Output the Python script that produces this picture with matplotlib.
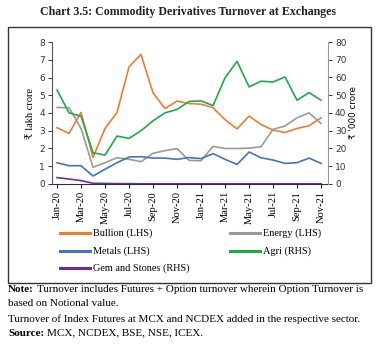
import matplotlib.pyplot as plt
from matplotlib.lines import Line2D

months = ["Jan-20", "Feb-20", "Mar-20", "Apr-20", "May-20", "Jun-20", "Jul-20", "Aug-20",
          "Sep-20", "Oct-20", "Nov-20", "Dec-20", "Jan-21", "Feb-21", "Mar-21", "Apr-21",
          "May-21", "Jun-21", "Jul-21", "Aug-21", "Sep-21", "Oct-21", "Nov-21"]

# left axis, lakh crore
bullion = [3.17, 2.85, 4.03, 1.5, 3.13, 4.03, 6.6, 7.3, 5.13, 4.25, 4.67, 4.53,
           4.5, 4.3, 3.63, 3.1, 3.83, 3.35, 3.04, 2.9, 3.13, 3.28, 3.73]
energy = [4.31, 4.3, 3.13, 0.94, 1.2, 1.48, 1.39, 1.26, 1.73, 1.88, 1.99, 1.33,
          1.31, 2.12, 2.0, 2.0, 2.02, 2.1, 3.08, 3.27, 3.73, 4.01, 3.41]
metals = [1.2, 1.03, 1.03, 0.45, 0.83, 1.2, 1.52, 1.54, 1.46, 1.46, 1.39, 1.49,
          1.43, 1.71, 1.39, 1.1, 1.8, 1.48, 1.35, 1.16, 1.2, 1.46, 1.16]
# right axis, '000 crore
agri = [52.9, 40.1, 38.2, 17.6, 16.3, 27.0, 25.7, 30.0, 35.6, 40.1, 42.0, 46.5,
        46.8, 44.2, 59.8, 69.1, 54.7, 57.9, 57.5, 60.3, 47.2, 51.5, 47.2]
gems = [3.6, 2.8, 1.9, 0.4, 0.3, 0.2, 0.2, 0.1, 0.1, 0.1, 0.1, 0.1,
        0.1, 0.1, 0.1, 0.1, 0.1, 0.1, 0.1, 0.1, 0.1, 0.1, 0.1]

c_bull = "#f07c31"
c_energy = "#9a9a9a"
c_metals = "#4472c4"
c_agri = "#1faa48"
c_gems = "#6a2ca0"

serif = ["Liberation Serif", "DejaVu Serif", "DejaVu Sans"]
plt.rcParams["font.family"] = ["DejaVu Sans"]

fig = plt.figure(figsize=(3.76, 3.49), dpi=100)
W, H = 376, 349

fig.text(0.5, 1 - 12 / H, "Chart 3.5: Commodity Derivatives Turnover at Exchanges",
         ha="center", va="center", fontsize=8.6, fontweight="bold", family=serif, color="#222222")

# frame box
box = plt.Rectangle((8 / W, 1 - 283 / H), 363 / W, 256 / H, transform=fig.transFigure,
                    fill=False, edgecolor="#333333", linewidth=1.0)
fig.patches.append(box)

ax = fig.add_axes([52 / W, 1 - 184 / H, 276 / W, 142 / H])
ax2 = ax.twinx()

x = list(range(len(months)))
ax.plot(x, bullion, color=c_bull, lw=1.2)
ax.plot(x, energy, color=c_energy, lw=1.2)
ax.plot(x, metals, color=c_metals, lw=1.2)
ax2.plot(x, agri, color=c_agri, lw=1.2)
ax2.plot(x, gems, color=c_gems, lw=1.2)

ax.set_xlim(-0.42, 22.58)
ax.set_ylim(0, 8)
ax2.set_ylim(0, 80)
ax.set_yticks(range(0, 9))
ax2.set_yticks(range(0, 81, 10))
ax.set_xticks(x[::2])
ax.set_xticklabels(months[::2], rotation=90, fontsize=7.6, family=serif)
ax.tick_params(axis="y", labelsize=6.5, length=3, width=0.7, colors="#333333", pad=2)
ax.tick_params(axis="x", length=3, width=0.7, pad=2)
ax2.tick_params(axis="y", labelsize=6.5, length=3, width=0.7, colors="#333333", pad=2)

for a in (ax, ax2):
    a.spines["top"].set_visible(False)
    a.patch.set_visible(False)
ax.spines["right"].set_visible(False)
ax2.spines["left"].set_visible(False)
ax2.spines["bottom"].set_visible(False)
ax2.spines["right"].set_color("#999999")
ax.spines["left"].set_color("#555555")
ax.spines["bottom"].set_color("#333333")

ax.set_ylabel("₹ lakh crore", fontsize=7.5, family=serif, labelpad=3)
ax2.set_ylabel("₹ '000 crore", fontsize=6.3, rotation=90, labelpad=2)

# legend drawn by hand, two columns
leg_items = [("Bullion (LHS)", c_bull, 60, 233), ("Energy (LHS)", c_energy, 230, 233),
             ("Metals (LHS)", c_metals, 60, 251), ("Agri (RHS)", c_agri, 230, 251),
             ("Gem and Stones (RHS)", c_gems, 60, 268)]
for name, col, lx, ly in leg_items:
    fig.add_artist(Line2D([lx / W, (lx + 30) / W], [1 - ly / H, 1 - ly / H],
                          color=col, lw=2.2, transform=fig.transFigure))
    fig.text((lx + 33) / W, 1 - ly / H, name, fontsize=7.4, family=serif, va="center")

fs = 8.0
fig.canvas.draw()
r = fig.canvas.get_renderer()

def bold_then(y, head, rest):
    t = fig.text(8 / W, 1 - y / H, head, fontsize=fs, family=serif, va="center",
                 fontweight="bold")
    w = t.get_window_extent(renderer=r).width
    fig.text((8 + w + 3) / W, 1 - y / H, rest, fontsize=fs, family=serif, va="center")

bold_then(290, "Note:", "Turnover includes Futures + Option turnover wherein Option Turnover is")
fig.text(8 / W, 1 - 304 / H, "based on Notional value.", fontsize=fs, family=serif, va="center")
fig.text(8 / W, 1 - 319 / H,
         "Turnover of Index Futures at MCX and NCDEX added in the respective sector.",
         fontsize=fs, family=serif, va="center")
bold_then(333, "Source:", "MCX, NCDEX, BSE, NSE, ICEX.")

fig.savefig("out.png", dpi=100)
